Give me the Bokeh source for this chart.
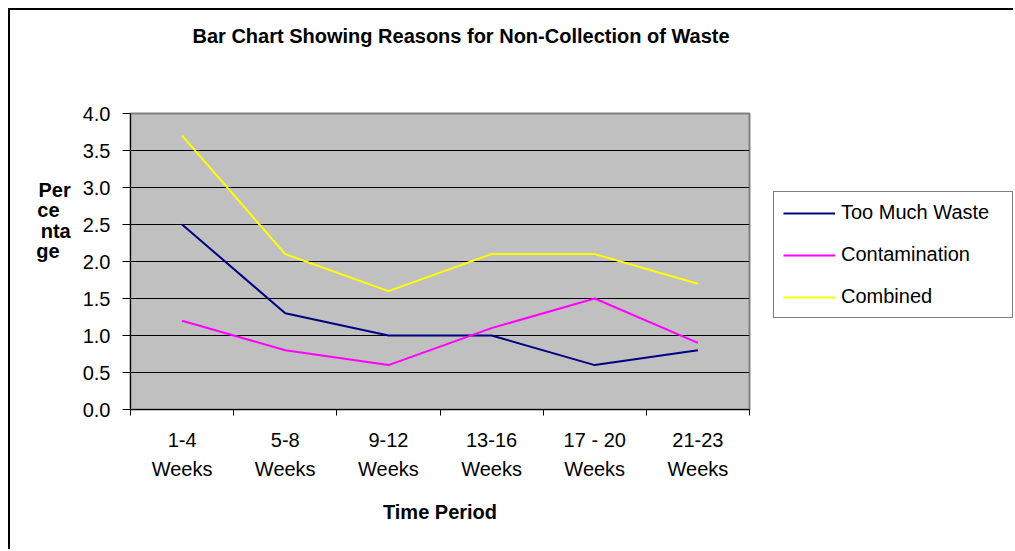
import numpy as np
from bokeh.plotting import figure
from bokeh.layouts import row
from bokeh.models import (FixedTicker, Legend, LegendItem, Range1d, Title,
                          NumeralTickFormatter)
from bokeh.embed import file_html
from bokeh.resources import INLINE

# ---- data ----
categories = ["1-4\nWeeks", "5-8\nWeeks", "9-12\nWeeks", "13-16\nWeeks",
              "17 - 20\nWeeks", "21-23\nWeeks"]
too_much_waste = [2.5, 1.3, 1.0, 1.0, 0.6, 0.8]
contamination = [1.2, 0.8, 0.6, 1.1, 1.5, 0.9]
combined = [3.7, 2.1, 1.6, 2.1, 2.1, 1.7]
y_ticks = [0.0, 0.5, 1.0, 1.5, 2.0, 2.5, 3.0, 3.5, 4.0]
series_names = ["Too Much Waste", "Contamination", "Combined"]
series_colors = ["#000080", "#FF00FF", "#FFFF00"]

title_text = "Bar Chart Showing Reasons for Non-Collection of Waste"
x_title = "Time Period"
y_title_lines = ["Per", "ce", "nta", "ge"]

FONT = "Liberation Sans"
NBSP = "\u00a0"

n = len(categories)
xs = np.arange(n) + 0.5

# layout (page pixels)
H = 539
FL, FT, FR, FB = 130, 113, 749, 409      # frame edges in page px
OX, OY = 10, 10                           # canvas origin in page px
LEG_X = 760                               # where legend canvas starts
W1 = LEG_X - OX
W2 = 1013 - LEG_X

p = figure(width=W1, height=H, output_backend="svg", toolbar_location=None,
           x_range=Range1d(0, n), y_range=Range1d(0, 4),
           min_border_left=FL - OX, min_border_top=FT - OY,
           min_border_right=W1 - (FR - OX), min_border_bottom=H - (FB - OY),
           background_fill_color="#C0C0C0", border_fill_color="white")

p.outline_line_color = "#808080"
p.outline_line_width = 2

# title (trailing blank lines lift it towards the top of the chart area)
p.title = Title(text=title_text + "\n\n\n", align="left", offset=62,
                vertical_align="bottom",
                text_font=FONT, text_font_size="20px", text_font_style="bold",
                text_color="black", text_line_height=1.0, standoff=2)

# x axis
xa = p.xaxis[0]
xa.ticker = FixedTicker(ticks=list(xs), minor_ticks=list(range(0, n + 1)))
xa.major_label_overrides = {float(x): c for x, c in zip(xs, categories)}
xa.major_tick_in = 0
xa.major_tick_out = 0
xa.minor_tick_in = 0
xa.minor_tick_out = 6
xa.minor_tick_line_color = "black"
xa.axis_line_color = "black"
xa.major_label_text_font = FONT
xa.major_label_text_font_size = "20px"
xa.major_label_text_color = "black"
xa.major_label_text_line_height = 1.36
xa.major_label_standoff = 13
xa.axis_label = x_title
xa.axis_label_text_font = FONT
xa.axis_label_text_font_size = "20px"
xa.axis_label_text_font_style = "bold"
xa.axis_label_text_color = "black"
xa.axis_label_standoff = 18

# y axis
ya = p.yaxis[0]
ya.ticker = FixedTicker(ticks=y_ticks)
ya.formatter = NumeralTickFormatter(format="0.0")
ya.major_tick_in = 0
ya.major_tick_out = 8
ya.minor_tick_line_color = None
ya.axis_line_color = "black"
ya.major_tick_line_color = "black"
ya.major_label_text_font = FONT
ya.major_label_text_font_size = "20px"
ya.major_label_text_color = "black"
ya.major_label_standoff = 12
# wrapped, horizontal axis title; short lines padded so lines start flush left,
# blank lines at the end raise the block above the axis centre
pad = {"ce": 2, "ge": 2}
ylab = "\n".join(t + NBSP * pad.get(t, 0) for t in y_title_lines) + "\n" * 4
ya.axis_label = ylab
ya.axis_label_text_font = FONT
ya.axis_label_text_font_size = "20px"
ya.axis_label_text_font_style = "bold"
ya.axis_label_text_color = "black"
ya.axis_label_text_line_height = 0.93
ya.axis_label_standoff = 9
if "axis_label_orientation" in ya.properties():
    ya.axis_label_orientation = "horizontal"

p.xgrid.grid_line_color = None
p.ygrid.ticker = FixedTicker(ticks=y_ticks)
p.ygrid.grid_line_color = "black"
p.ygrid.grid_line_width = 1

# lines
for vals, c in zip([too_much_waste, contamination, combined], series_colors):
    p.line(xs, vals, line_color=c, line_width=2)

# legend panel (separate canvas to the right of the plot)
p2 = figure(width=W2, height=H, output_backend="svg", toolbar_location=None,
            x_range=Range1d(0, 1), y_range=Range1d(0, 1),
            x_axis_location=None, y_axis_location=None,
            min_border=0, border_fill_color="white",
            background_fill_color="white")
p2.outline_line_color = None
p2.grid.visible = False
items = []
for name, c in zip(series_names, series_colors):
    r = p2.line([np.nan, np.nan], [np.nan, np.nan], line_color=c, line_width=2)
    items.append(LegendItem(label=name, renderers=[r]))

legend = Legend(items=items, location=(773 - LEG_X, FB - 318))
legend.border_line_color = "black"
legend.border_line_width = 1
legend.background_fill_color = "white"
legend.background_fill_alpha = 1
legend.padding = 9
legend.spacing = 19
legend.margin = 0
legend.glyph_width = 52
legend.glyph_height = 20
legend.label_height = 20
legend.label_width = 162
legend.label_standoff = 6
legend.label_text_font = FONT
legend.label_text_font_size = "20px"
legend.label_text_color = "black"
p2.add_layout(legend)

lay = row(p, p2, spacing=0)
lay.styles = {"border-top": "2px solid black", "border-left": "2px solid black",
              "margin-top": "8px", "margin-left": "8px"}

open("out.html", "w").write(file_html(lay, INLINE))
